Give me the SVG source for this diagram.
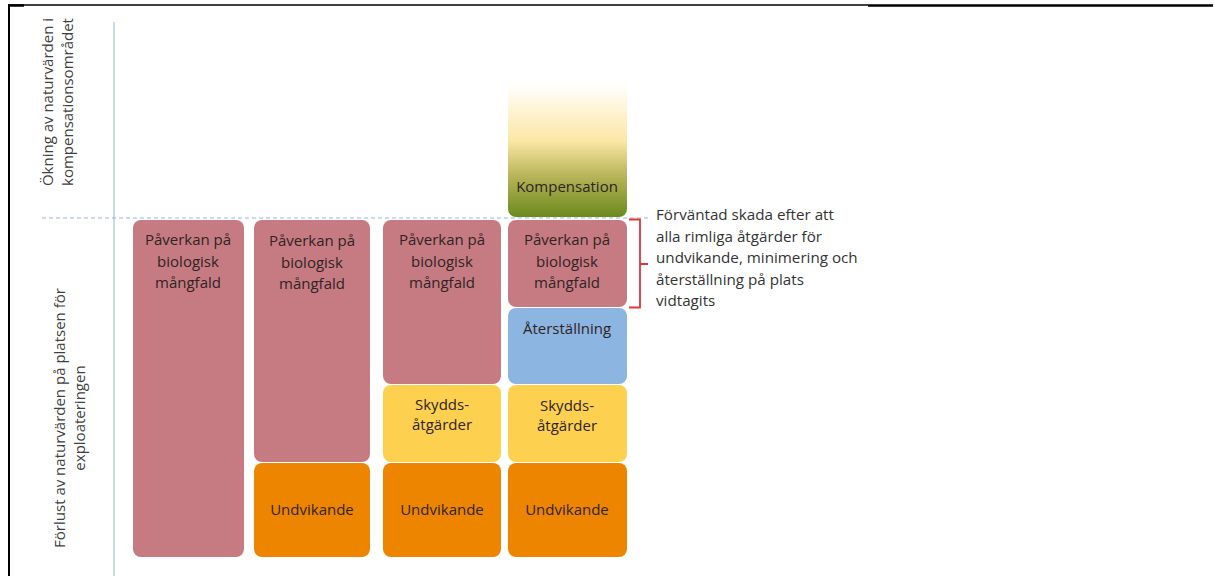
<svg xmlns="http://www.w3.org/2000/svg" width="1214" height="576" viewBox="0 0 1214 576">
<defs>
<style>
text{font-family:"Open Sans","Noto Sans","Liberation Sans",sans-serif;font-size:15px;fill:#2e2424;text-anchor:middle}
.note{text-anchor:start;fill:#333333;font-size:15.2px}
.ax{fill:#404040}
.pink{fill:#C67B82}
.orange{fill:#EE8500}
.yellow{fill:#FDD14F}
.blue{fill:#8DB5E2}
</style>
<linearGradient id="komp" x1="0" y1="0" x2="0" y2="1">
<stop offset="0" stop-color="#FFFFFF" stop-opacity="0"/>
<stop offset="0.15" stop-color="#FFF8E6"/>
<stop offset="0.45" stop-color="#FCE7A6"/>
<stop offset="0.7" stop-color="#B9B55A"/>
<stop offset="1" stop-color="#6A8A1C"/>
</linearGradient>
</defs>
<rect width="1214" height="576" fill="#FFFFFF"/>
<g id="frame">
<line x1="8" y1="5" x2="868" y2="5" stroke="#000" stroke-width="1.5"/>
<line x1="868" y1="5.5" x2="1213" y2="5.5" stroke="#000" stroke-width="2.5"/>
<line x1="9" y1="5" x2="9" y2="576" stroke="#000" stroke-width="2"/>
<line x1="8" y1="5.5" x2="24" y2="5.5" stroke="#000" stroke-width="2.5"/>
</g>
<g id="axes">
<line x1="114" y1="22" x2="114" y2="576" stroke="#B8CCE4" stroke-width="1.5"/>
<line x1="42" y1="218" x2="648" y2="218" stroke="#9BB7D4" stroke-width="1" stroke-dasharray="4 3"/>
<text class="ax" transform="translate(53,102) rotate(-90)">Ökning av naturvärden i</text>
<text class="ax" transform="translate(73,102) rotate(-90)">kompensationsområdet</text>
<text class="ax" transform="translate(65,418) rotate(-90)">Förlust av naturvärden på platsen för</text>
<text class="ax" transform="translate(85,418) rotate(-90)">exploateringen</text>
</g>
<g id="col1">
<rect class="pink" x="133" y="220" width="111" height="337" rx="8"/>
<text x="188" y="245">Påverkan på</text>
<text x="188" y="267">biologisk</text>
<text x="188" y="288">mångfald</text>
</g>
<g id="col2">
<rect class="pink" x="254" y="220" width="116" height="242" rx="8"/>
<text x="312" y="246">Påverkan på</text>
<text x="312" y="268">biologisk</text>
<text x="312" y="289">mångfald</text>
<rect class="orange" x="254" y="463" width="116" height="94" rx="8"/>
<text x="312" y="515">Undvikande</text>
</g>
<g id="col3">
<rect class="pink" x="383" y="220" width="118" height="164" rx="8"/>
<text x="442" y="245">Påverkan på</text>
<text x="442" y="267">biologisk</text>
<text x="442" y="288">mångfald</text>
<rect class="yellow" x="383" y="385" width="118" height="77" rx="8"/>
<text x="442" y="410">Skydds-</text>
<text x="442" y="430">åtgärder</text>
<rect class="orange" x="383" y="463" width="118" height="94" rx="8"/>
<text x="442" y="515">Undvikande</text>
</g>
<g id="col4">
<rect fill="url(#komp)" x="508" y="78" width="119" height="139" rx="8"/>
<text x="567" y="192">Kompensation</text>
<rect class="pink" x="508" y="220" width="119" height="87" rx="8"/>
<text x="567" y="245">Påverkan på</text>
<text x="567" y="267">biologisk</text>
<text x="567" y="288">mångfald</text>
<rect class="blue" x="508" y="308" width="119" height="76" rx="8"/>
<text x="567" y="334">Återställning</text>
<rect class="yellow" x="508" y="385" width="119" height="77" rx="8"/>
<text x="567" y="411">Skydds-</text>
<text x="567" y="431">åtgärder</text>
<rect class="orange" x="508" y="463" width="119" height="94" rx="8"/>
<text x="567" y="515">Undvikande</text>
</g>
<g id="bracket">
<path d="M629 219.5 H640 V307.5 H629 M640 264 H648" fill="none" stroke="#E03535" stroke-width="1.8"/>
<text class="note" x="656" y="220">Förväntad skada efter att</text>
<text class="note" x="656" y="242">alla rimliga åtgärder för</text>
<text class="note" x="656" y="263">undvikande, minimering och</text>
<text class="note" x="656" y="285">återställning på plats</text>
<text class="note" x="656" y="306">vidtagits</text>
</g>
</svg>
